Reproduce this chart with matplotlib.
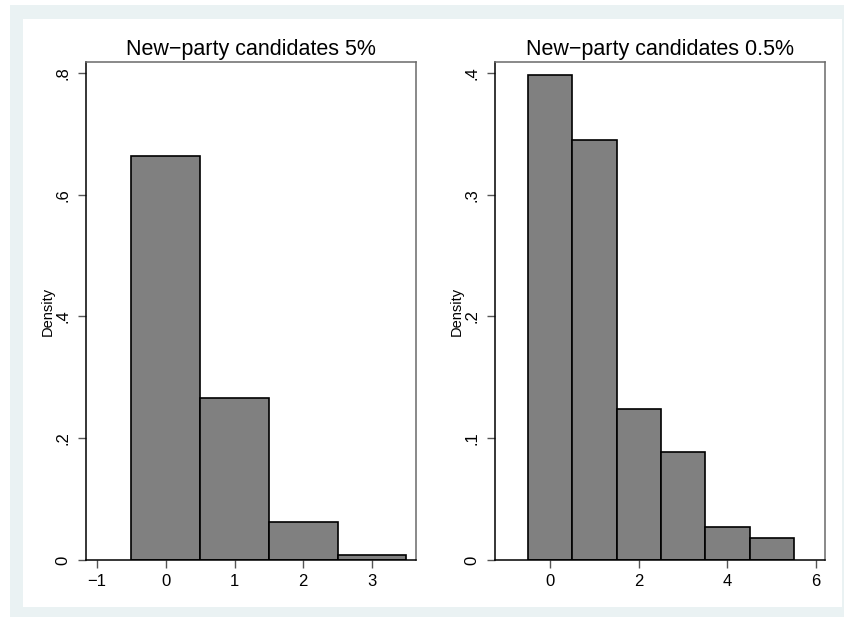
"""Histograms of new-party candidates (Stata-style two panel figure)"""

import matplotlib
matplotlib.use("Agg")
import matplotlib.pyplot as plt
from matplotlib.patches import Rectangle

# Left panel: new-party candidates 5%
bins_5 = [0, 1, 2, 3]
density_5 = [0.664, 0.266, 0.062, 0.008]
yticks_5 = [0, 0.2, 0.4, 0.6, 0.8]
ylabels_5 = ["0", ".2", ".4", ".6", ".8"]
xticks_5 = [-1, 0, 1, 2, 3]
xlabels_5 = ["\u22121", "0", "1", "2", "3"]

# Right panel: new-party candidates 0.5%
bins_05 = [0, 1, 2, 3, 4, 5]
density_05 = [0.398, 0.345, 0.124, 0.089, 0.027, 0.018]
yticks_05 = [0, 0.1, 0.2, 0.3, 0.4]
ylabels_05 = ["0", ".1", ".2", ".3", ".4"]
xticks_05 = [0, 2, 4, 6]
xlabels_05 = ["0", "2", "4", "6"]

titles = ["New\u2212party candidates 5%", "New\u2212party candidates 0.5%"]

plt.rcParams["font.family"] = ["Liberation Sans", "DejaVu Sans"]

W, H = 844, 617
fig = plt.figure(figsize=(W / 100, H / 100), dpi=100, facecolor="white")

# Stata graph region (light blue-grey band) and white inner region
fig.patches.append(Rectangle((10 / W, 0), (W - 10) / W, (H - 5) / H,
                             transform=fig.transFigure, facecolor="#eaf2f3",
                             edgecolor="none", zorder=-10))
fig.patches.append(Rectangle((23 / W, 10 / H), (842 - 23) / W, (607 - 19) / H,
                             transform=fig.transFigure, facecolor="white",
                             edgecolor="none", zorder=-9))


def draw_panel(ax, bins, dens, title, xticks, xlabels, yticks, ylabels, xlim, ylim):
    ax.bar(bins, dens, width=1.0, color="#808080", edgecolor="black", linewidth=1.2)
    ax.set_xlim(*xlim)
    ax.set_ylim(*ylim)
    ax.set_xticks(xticks)
    ax.set_xticklabels(xlabels, fontsize=12)
    ax.set_yticks(yticks)
    ax.set_yticklabels(ylabels, fontsize=12, rotation=90, va="center")
    ax.tick_params(axis="both", direction="out", length=6, width=1, color="#555555")
    ax.tick_params(axis="x", pad=4)
    ax.tick_params(axis="y", pad=5)
    ax.set_ylabel("Density", fontsize=10.5, labelpad=1)
    ax.set_title(title, fontsize=15.5, pad=5)
    for side in ["left", "bottom"]:
        ax.spines[side].set_color("black")
        ax.spines[side].set_linewidth(1.1)
    for side in ["top", "right"]:
        ax.spines[side].set_color("#6a6a6a")
        ax.spines[side].set_linewidth(1.1)


ax1 = fig.add_axes([86 / W, (H - 560) / H, 330 / W, 498 / H])
draw_panel(ax1, bins_5, density_5, titles[0], xticks_5, xlabels_5,
           yticks_5, ylabels_5, (-1.16, 3.64), (0, 0.818))

ax2 = fig.add_axes([495 / W, (H - 560) / H, 330 / W, 498 / H])
draw_panel(ax2, bins_05, density_05, titles[1], xticks_05, xlabels_05,
           yticks_05, ylabels_05, (-1.24, 6.2), (0, 0.409))

fig.savefig("out.png", dpi=100, facecolor=fig.get_facecolor())
